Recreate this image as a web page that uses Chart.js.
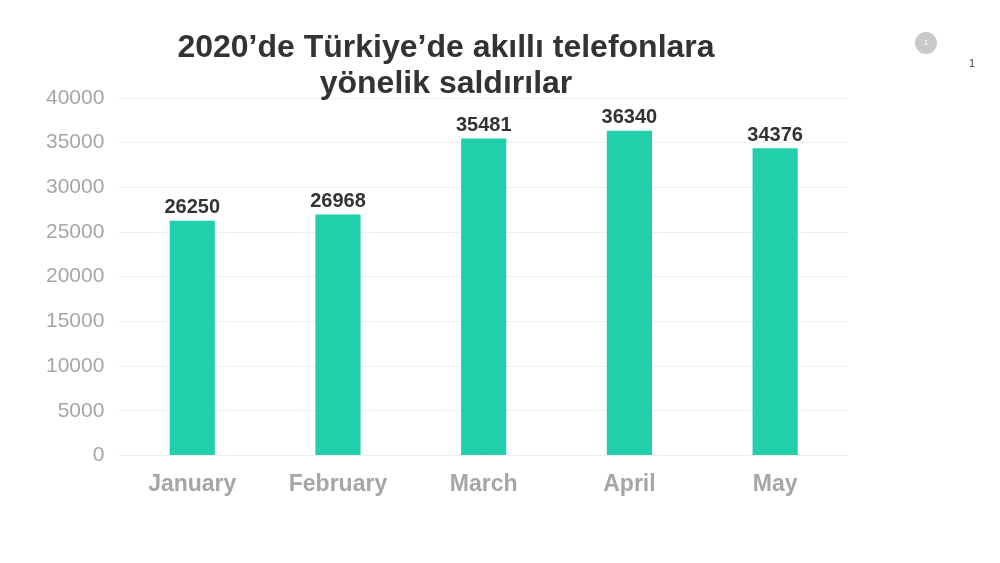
<!DOCTYPE html>
<html>
<head>
<meta charset="utf-8">
<script src="https://cdn.jsdelivr.net/npm/chart.js@4/dist/chart.umd.min.js"></script>
<style>
    body { margin: 0; background: #fff; font-family: "Liberation Sans", Arial, sans-serif; }
    #wrap { position: relative; width: 1000px; height: 563px; overflow: hidden; }
    #titulo { position: absolute; left: 146px; top: 28px; width: 600px; text-align: center;
        font-size: 32px; font-weight: bold; color: #333; line-height: 36px; }
    #bolinha { position: absolute; left: 915px; top: 32px; width: 22px; height: 22px; border-radius: 50%;
        background: #c9c9ce; color: #fff; font-size: 8px; text-align: center; line-height: 22px; }
    #pagina { position: absolute; left: 969px; top: 57px; font-size: 11px; color: #444; }
    canvas { position: absolute; left: 0; top: 0; }
</style>
</head>
<body>
<div id="wrap">
    <canvas id="grafico" width="1000" height="563"></canvas>
    <div id="titulo">2020’de Türkiye’de akıllı telefonlara<br>yönelik saldırılar</div>
    <div id="bolinha">1</div>
    <div id="pagina">1</div>
</div>
<script>
// Dados do gráfico
const meses = ['January', 'February', 'March', 'April', 'May'];
const saldiri = [26250, 26968, 35481, 36340, 34376];
const yMax = 40000;
const yPasso = 5000;

// Rótulos de valor acima das barras
const rotulos = {
    id: 'rotulos',
    afterDatasetsDraw(chart) {
        const ctx = chart.ctx;
        const meta = chart.getDatasetMeta(0);
        ctx.save();
        ctx.font = 'bold 20px "Liberation Sans", Arial, sans-serif';
        ctx.fillStyle = '#333333';
        ctx.textAlign = 'center';
        ctx.textBaseline = 'bottom';
        meta.data.forEach((bar, i) => {
            ctx.fillText(saldiri[i], bar.x, bar.y - 3);
        });
        ctx.restore();
    }
};

new Chart(document.getElementById('grafico'), {
    type: 'bar',
    data: {
        labels: meses,
        datasets: [{
            data: saldiri,
            backgroundColor: '#22cfab',
            barPercentage: 0.62,
            categoryPercentage: 0.5
        }]
    },
    options: {
        responsive: false,
        animation: false,
        layout: {
            padding: { top: 98, left: 31, right: 152, bottom: 58 }
        },
        scales: {
            x: {
                grid: { display: false },
                border: { display: false },
                ticks: {
                    color: '#a6a6a6',
                    padding: 7,
                    font: { family: '"Liberation Sans", Arial, sans-serif', size: 23, weight: 'bold' }
                }
            },
            y: {
                min: 0,
                max: yMax,
                ticks: {
                    stepSize: yPasso,
                    color: '#a6a6a6',
                    padding: 15,
                    callback: v => String(v),
                    font: { family: '"Liberation Sans", Arial, sans-serif', size: 21 }
                },
                grid: { color: '#efefef', drawTicks: false },
                border: { display: false }
            }
        },
        plugins: {
            legend: { display: false },
            tooltip: { enabled: false }
        }
    },
    plugins: [rotulos]
});
</script>
</body>
</html>
